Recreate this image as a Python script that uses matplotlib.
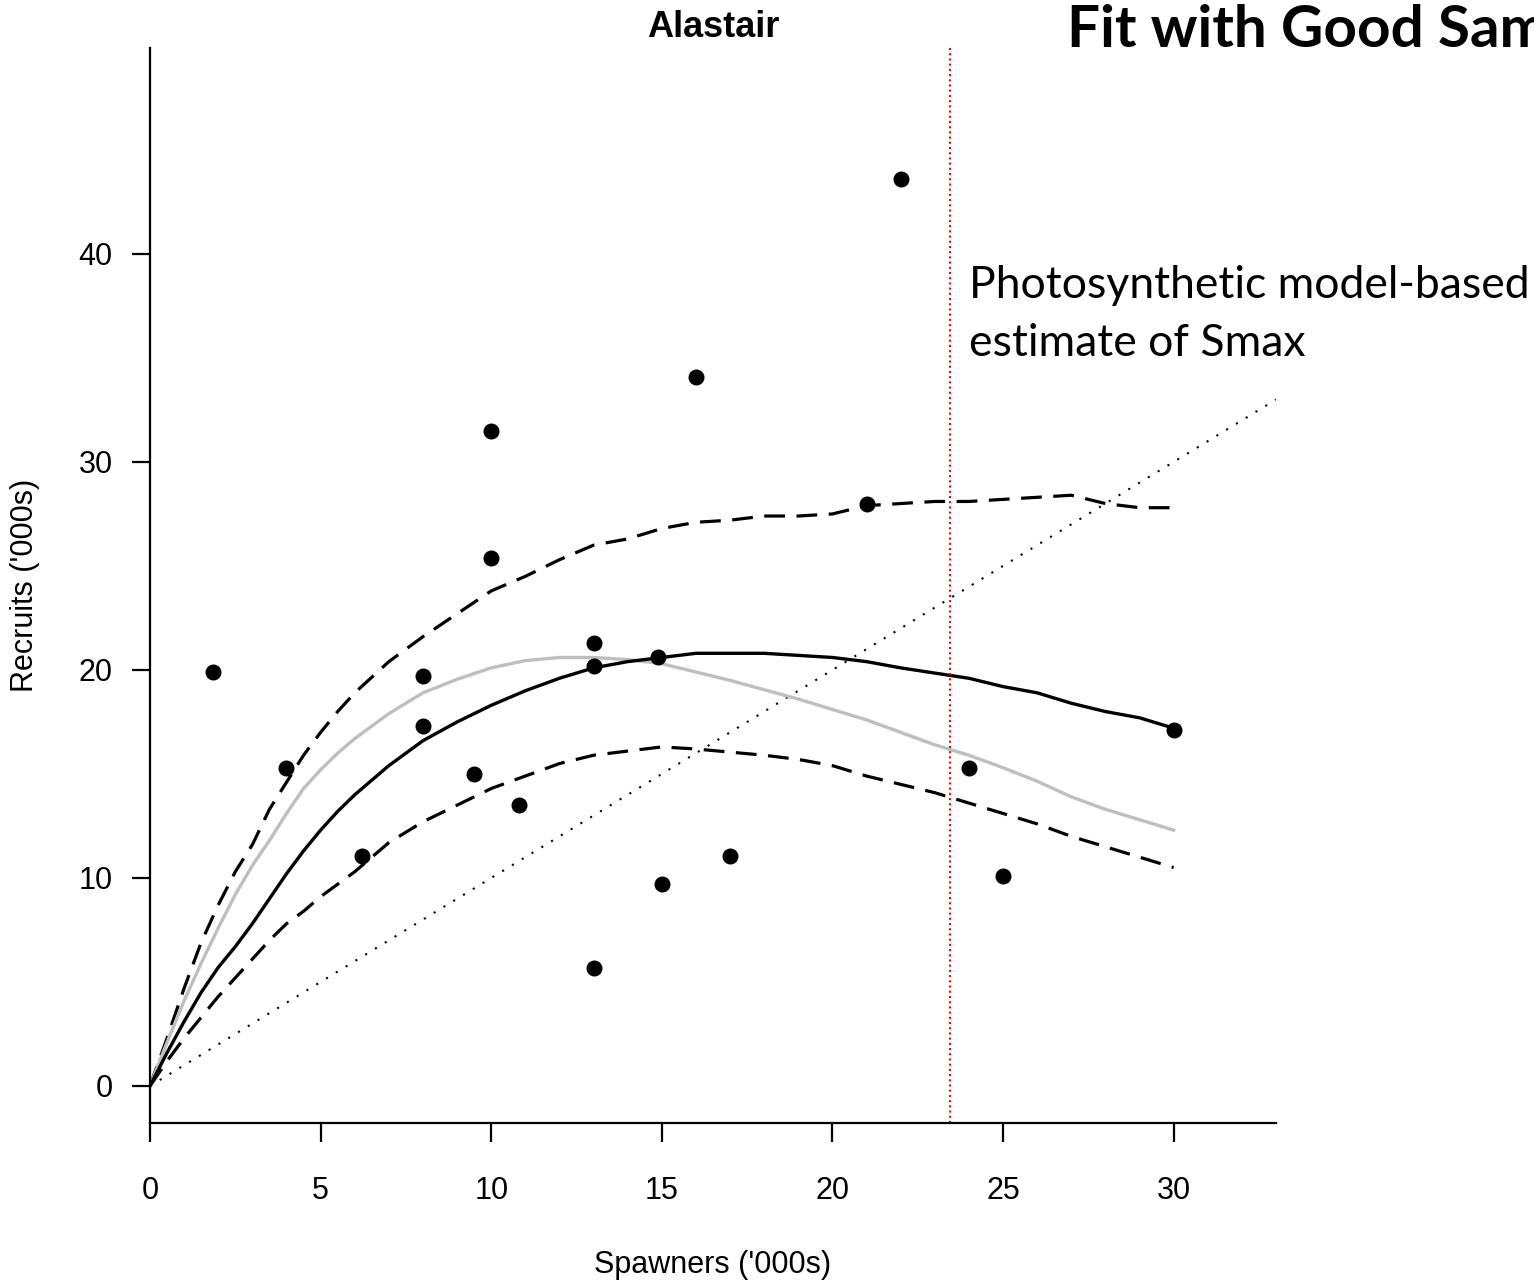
import matplotlib
matplotlib.use("Agg")
import matplotlib.pyplot as plt

# spawner-recruit observations ('000s)
spawners = [1.85, 4.0, 6.2, 8.0, 8.0, 9.5, 10.0, 10.0, 10.8, 13.0, 13.0, 13.0,
            14.9, 15.0, 16.0, 17.0, 21.0, 22.0, 24.0, 25.0, 30.0]
recruits = [19.9, 15.3, 11.05, 19.7, 17.3, 15.0, 31.5, 25.4, 13.5, 21.3, 20.2, 5.65,
            20.6, 9.7, 34.1, 11.05, 28.0, 43.6, 15.3, 10.1, 17.1]

# fitted curves (finer steps near the origin)
s_grid = [0, 0.5, 1, 1.5, 2, 2.5, 3, 3.5, 4, 4.5, 5, 5.5, 6, 7, 8, 9, 10, 11, 12, 13,
          14, 15, 16, 17, 18, 19, 20, 21, 22, 23, 24, 25, 26, 27, 28, 29, 30]
fit = [0, 1.6, 3.1, 4.5, 5.7, 6.7, 7.8, 9.0, 10.2, 11.3, 12.3, 13.2, 14.0, 15.4, 16.6,
       17.5, 18.3, 19.0, 19.6, 20.1, 20.4, 20.6, 20.8, 20.8, 20.8, 20.7, 20.6, 20.4,
       20.1, 19.85, 19.6, 19.2, 18.9, 18.4, 18.0, 17.7, 17.2]
fit_alt = [0, 2.1, 4.1, 5.9, 7.6, 9.2, 10.6, 11.8, 13.1, 14.3, 15.2, 16.0, 16.7, 17.9,
           18.9, 19.55, 20.1, 20.45, 20.6, 20.6, 20.5, 20.3, 19.9, 19.5, 19.05, 18.6,
           18.1, 17.6, 17.0, 16.4, 15.9, 15.3, 14.65, 13.9, 13.3, 12.8, 12.3]
upper = [0, 2.3, 4.7, 6.9, 8.7, 10.3, 11.6, 13.3, 14.6, 15.9, 17.0, 18.0, 18.9, 20.4,
         21.6, 22.7, 23.8, 24.5, 25.3, 26.0, 26.3, 26.8, 27.1, 27.2, 27.4, 27.4, 27.5,
         27.9, 28.0, 28.1, 28.1, 28.2, 28.3, 28.4, 28.0, 27.8, 27.8]
lower = [0, 1.2, 2.3, 3.3, 4.3, 5.2, 6.1, 7.0, 7.8, 8.4, 9.1, 9.7, 10.3, 11.7, 12.7,
         13.5, 14.3, 14.9, 15.5, 15.9, 16.1, 16.3, 16.2, 16.05, 15.9, 15.7, 15.4, 14.9,
         14.5, 14.1, 13.6, 13.1, 12.6, 12.0, 11.5, 11.0, 10.5]
smax = 23.45

fig = plt.figure(figsize=(15.34, 12.86), dpi=100)
ax = fig.add_axes([150/1534, 1 - 1123/1286, 1126/1534, 1075/1286])

ax.plot([0, 33], [0, 33], color="black", lw=1.5, ls=(0, (1, 4.5)))
ax.plot(s_grid, upper, color="black", lw=2.3, ls=(0, (6.5, 3.6)))
ax.plot(s_grid, lower, color="black", lw=2.3, ls=(0, (6.5, 3.6)))
ax.plot(s_grid, fit_alt, color="#bebebe", lw=2.4)
ax.plot(s_grid, fit, color="black", lw=2.4)
ax.plot(spawners, recruits, "o", color="black", ms=10.5)
ax.axvline(smax, color="red", lw=1.5, ls=(0, (1, 1.5)))

ax.set_xlim(0, 33)
ax.set_ylim(-1.78, 49.9)
ax.set_xticks([0, 5, 10, 15, 20, 25, 30])
ax.set_yticks([0, 10, 20, 30, 40])
for side in ["top", "right"]:
    ax.spines[side].set_visible(False)
for side in ["left", "bottom"]:
    ax.spines[side].set_linewidth(1.6)

lab = dict(family="Liberation Sans", size=22)
ax.tick_params(axis="x", length=14, width=1.6, pad=24, labelsize=22)
ax.tick_params(axis="y", length=13, width=1.6, pad=14, labelsize=22)
for t in ax.get_xticklabels() + ax.get_yticklabels():
    t.set_fontfamily("Liberation Sans")

ax.set_xlabel("Spawners ('000s)", va="center", **lab)
ax.set_ylabel("Recruits ('000s)", va="center", **lab)
ax.xaxis.set_label_coords(0.5, -0.132)
ax.yaxis.set_label_coords(-0.111, 0.5)

ax.text(0.5, 1.0195, "Alastair", transform=ax.transAxes, ha="center", va="center",
        family="Liberation Sans", weight="bold", size=26)

fig.text(1067/1534, 1 - 47/1286, "Fit with Good Sam", ha="left", va="baseline",
         family="Lato", weight="bold", size=42)
fig.text(969/1534, 1 - 298/1286, "Photosynthetic model-based",
         ha="left", va="baseline", family="Lato", size=32)
fig.text(969/1534, 1 - 356/1286, "estimate of Smax",
         ha="left", va="baseline", family="Lato", size=32)

fig.savefig("out.png", dpi=100)
